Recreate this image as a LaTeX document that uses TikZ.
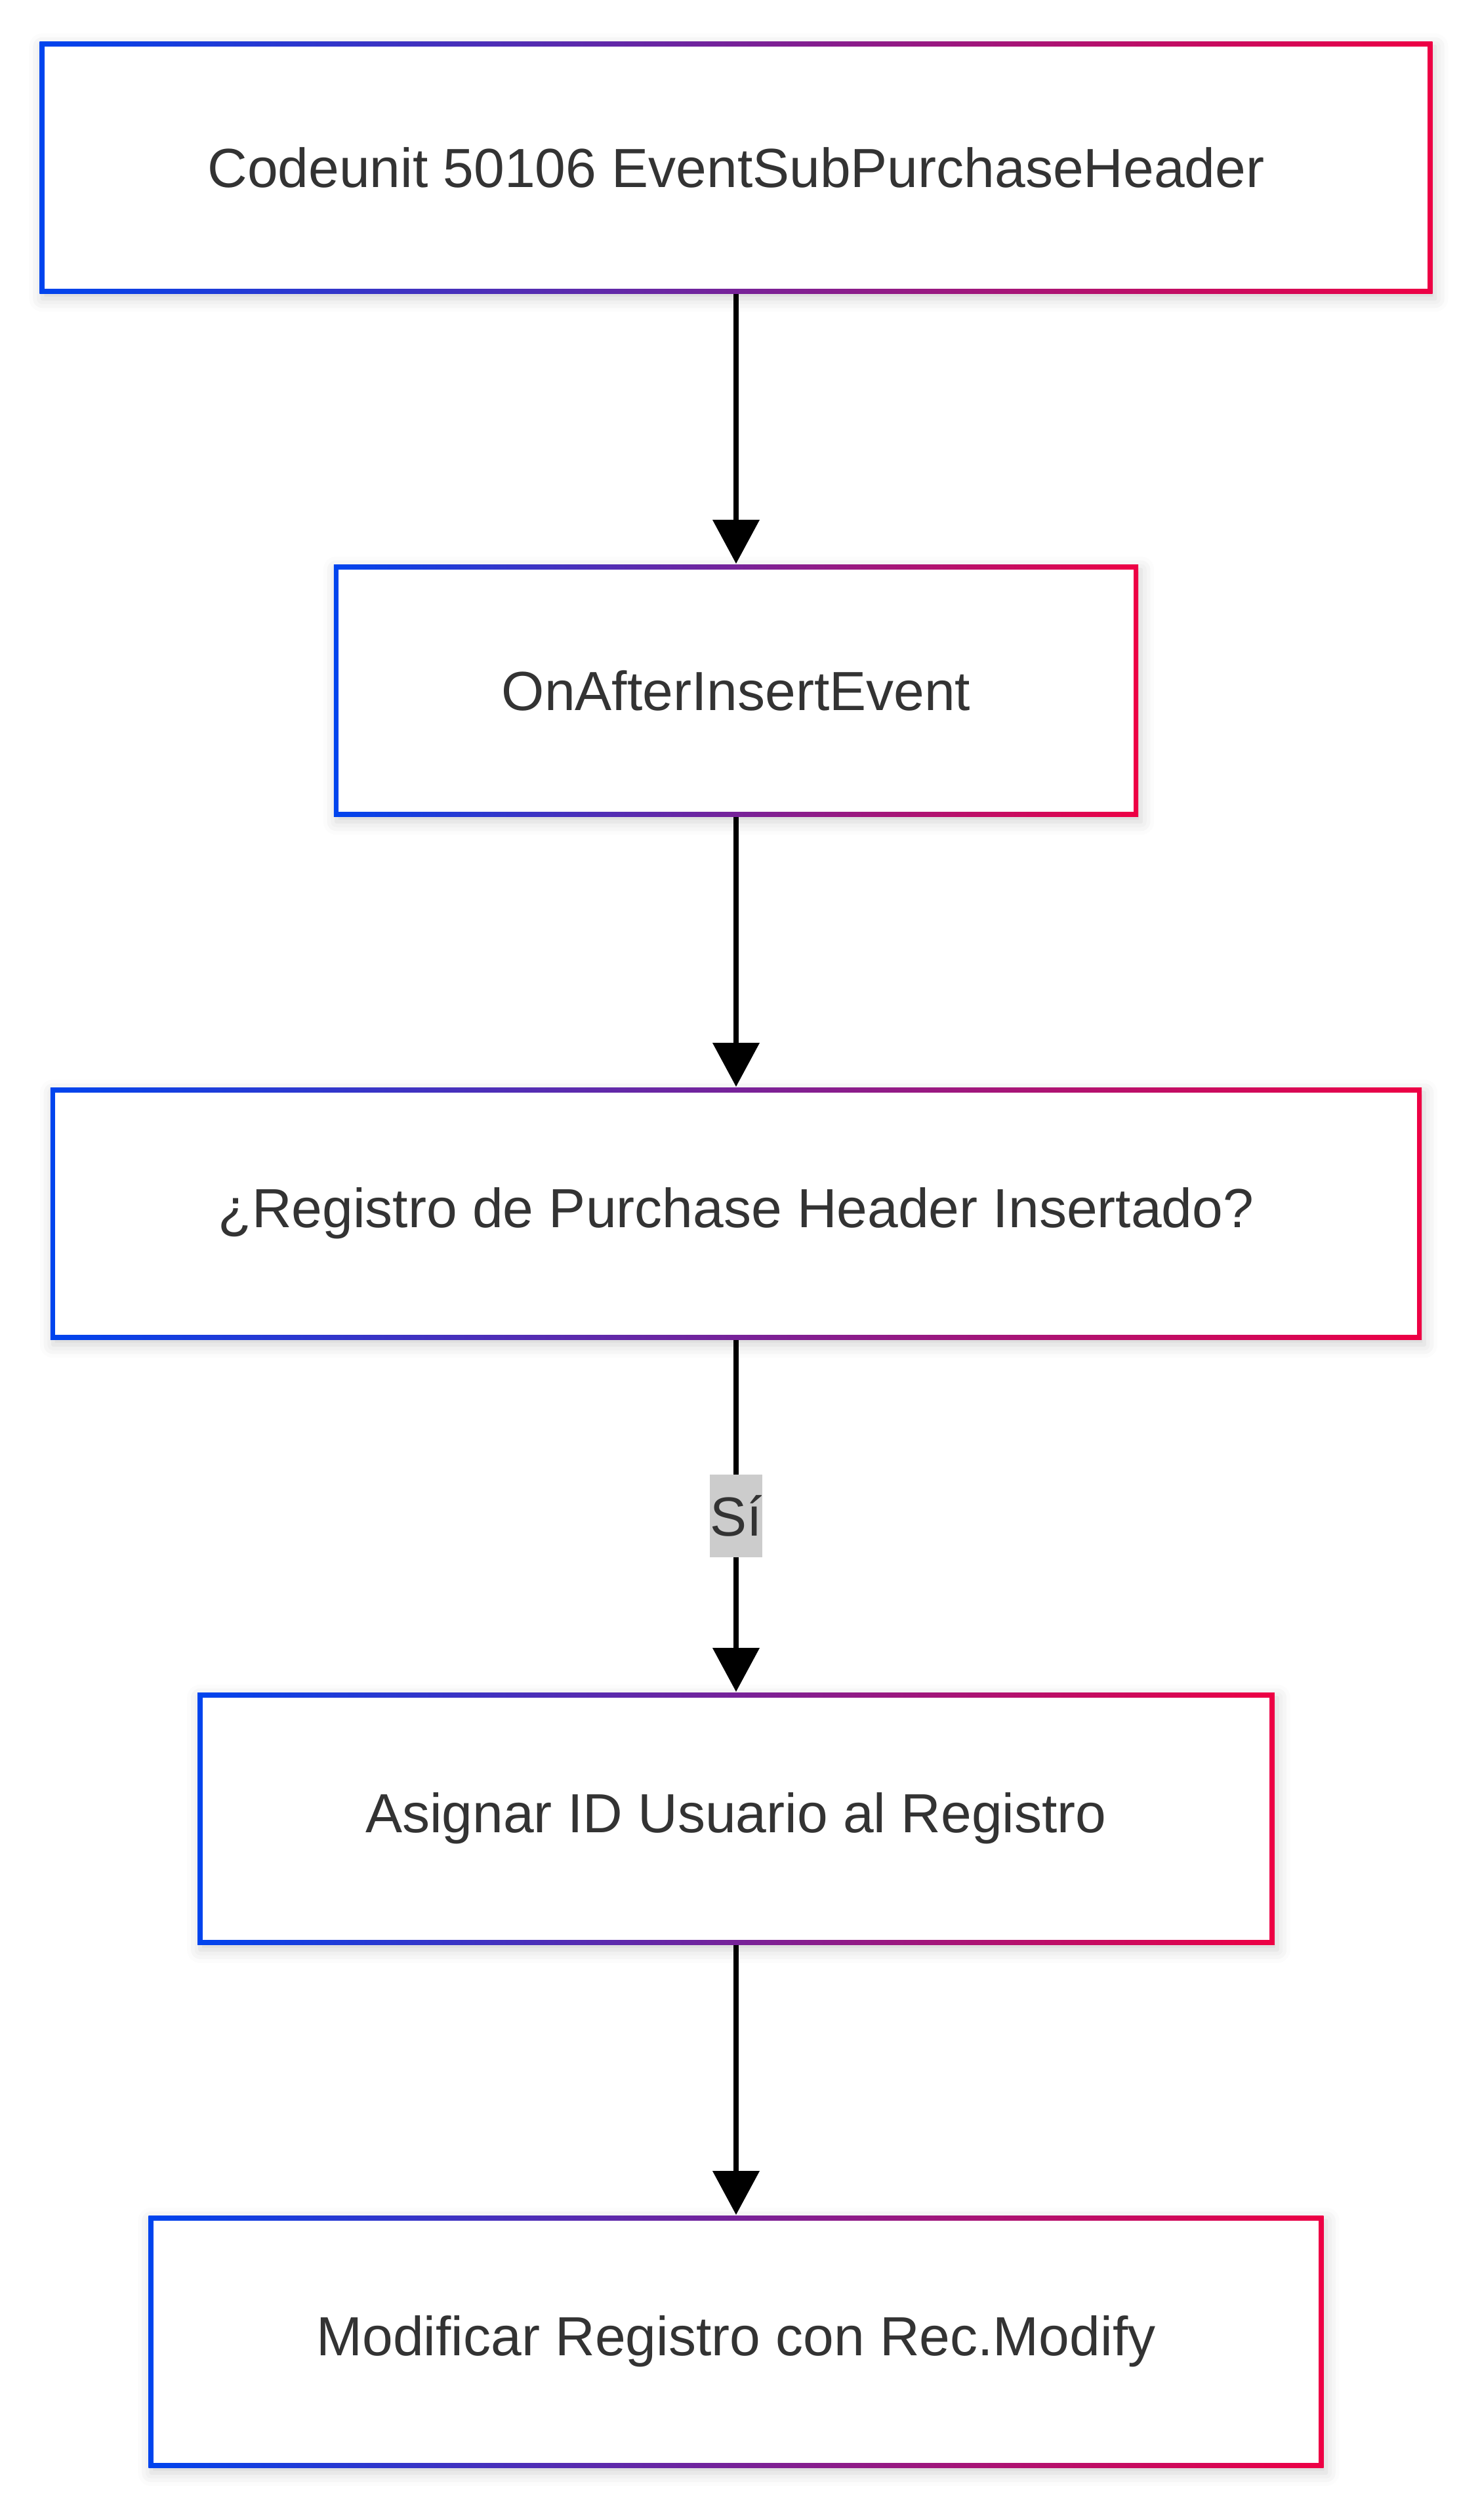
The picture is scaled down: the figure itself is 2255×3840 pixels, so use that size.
\documentclass[tikz,border=0pt]{standalone}
\usepackage{fontspec}
\setmainfont{Liberation Sans}
\usetikzlibrary{arrows.meta,shadows.blur}
\definecolor{cblue}{RGB}{0,68,238}
\definecolor{cred}{RGB}{238,0,68}
\definecolor{txt}{RGB}{51,51,51}
\definecolor{lblgray}{RGB}{204,204,204}

\begin{document}
\begin{tikzpicture}[x=0.2pt, y=-0.2pt, >={Triangle[width=14pt,length=13.4pt]},
  every node/.style={font=\fontsize{16.8pt}{20pt}\selectfont, text=txt},
  stepbox/.style={rectangle, fill=white, inner xsep=51.2pt, minimum height=76.8pt,
    blur shadow={shadow xshift=0.8pt, shadow yshift=-1.6pt, shadow blur radius=4pt, shadow opacity=18},
    path picture={\shade[left color=cblue, right color=cred] (path picture bounding box.south west) rectangle (path picture bounding box.north east);
      \fill[white] ([shift={(1.5pt,1.5pt)}]path picture bounding box.south west) rectangle ([shift={(-1.5pt,-1.5pt)}]path picture bounding box.north east);}},
  flow/.style={->, line width=1.55pt},
  lbl/.style={fill=lblgray, inner xsep=0pt, minimum height=25.2pt}]
\useasboundingbox (0,0) rectangle (2255,3840);
\node[stepbox] (cu) at (1122,255) {Codeunit 50106 EventSubPurchaseHeader};
\node[stepbox] (evt) at (1122,1052) {OnAfterInsertEvent};
\node[stepbox] (chk) at (1122,1849) {¿Registro de Purchase Header Insertado?};
\node[stepbox] (asig) at (1122,2771) {Asignar ID Usuario al Registro};
\node[stepbox] (mod) at (1122,3568) {Modificar Registro con Rec.Modify};
\draw[flow] (cu) -- (evt);
\draw[flow] (evt) -- (chk);
\draw[flow] (chk) -- node[lbl] {Sí} (asig);
\draw[flow] (asig) -- (mod);
\end{tikzpicture}
\end{document}
